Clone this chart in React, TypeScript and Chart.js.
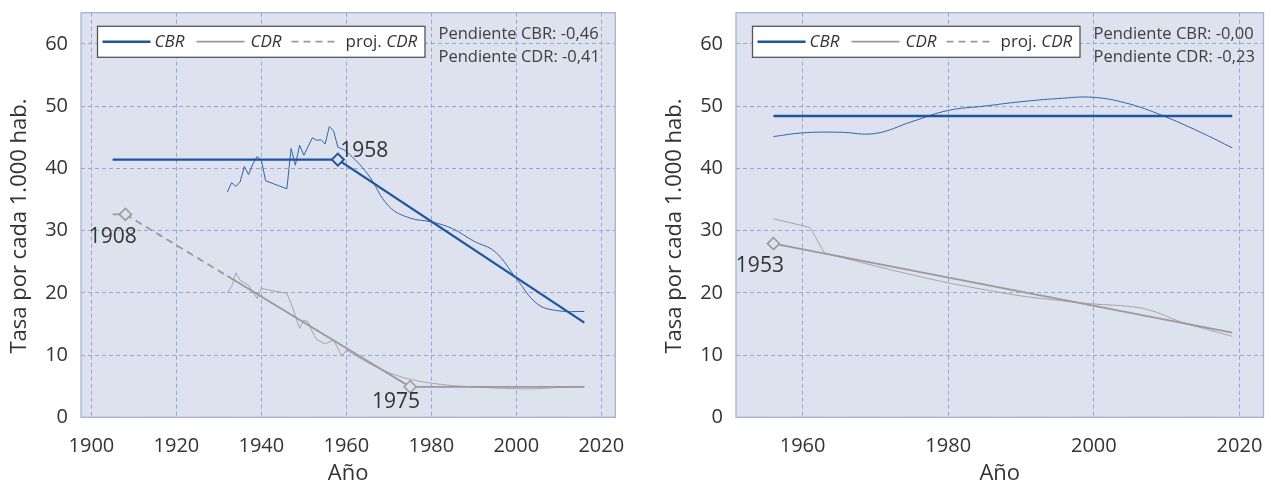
import React, { useEffect, useRef } from "react";
import { Chart, registerables } from "chart.js";

Chart.register(...registerables);

// ---------------- shared ticks ----------------
const Y_TICKS = [0, 10, 20, 30, 40, 50, 60];
const LEFT_X_TICKS = [1900, 1920, 1940, 1960, 1980, 2000, 2020];
const RIGHT_X_TICKS = [1960, 1980, 2000, 2020];
const X_TITLE = "Año";
const Y_TITLE = "Tasa por cada 1.000 hab.";

// ---------------- left panel data ----------------
const L_CBR_RAW_YEARS = [1932, 1933, 1934, 1935, 1936, 1937, 1938, 1939, 1940, 1941, 1946, 1947, 1948, 1949, 1950, 1952, 1953, 1954, 1955, 1956, 1957, 1958];
const L_CBR_RAW = [36.2, 37.7, 37.1, 37.8, 40.3, 39.0, 40.7, 41.9, 41.3, 38.0, 36.7, 43.2, 40.5, 43.7, 42.1, 44.9, 44.5, 44.6, 43.9, 46.7, 46.0, 43.4];
const L_CBR_SMOOTH_YEARS = [1958, 1960, 1965, 1970, 1975, 1980, 1985, 1990, 1995, 2000, 2005, 2010, 2016];
const L_CBR_SMOOTH = [43.4, 42.7, 39.1, 33.9, 32.0, 31.4, 30.3, 28.3, 26.6, 22.3, 18.2, 17.1, 17.0];
const L_CBR_FIT_YEARS = [1905, 1958, 2016];
const L_CBR_FIT = [41.4, 41.4, 15.2];

const L_CDR_RAW_YEARS = [1932, 1933, 1934, 1935, 1937, 1939, 1940, 1946, 1947, 1949, 1950, 1951, 1952, 1953, 1955, 1957, 1959, 1960];
const L_CDR_RAW = [20.0, 21.0, 23.2, 22.0, 21.2, 19.1, 20.7, 19.9, 18.3, 14.3, 15.6, 15.3, 13.7, 12.5, 11.8, 12.4, 9.8, 10.8];
const L_CDR_SMOOTH_YEARS = [1960, 1965, 1970, 1975, 1980, 1985, 1990, 1995, 2000, 2005, 2010, 2016];
const L_CDR_SMOOTH = [10.8, 8.8, 7.2, 6.1, 5.5, 5.1, 4.9, 4.7, 4.6, 4.6, 4.8, 4.9];
const L_CDR_FIT_PRE_YEARS = [1905, 1908];
const L_CDR_FIT_PRE = [32.6, 32.6];
const L_CDR_PROJ_YEARS = [1908, 1932];
const L_CDR_PROJ = [32.6, 22.7];
const L_CDR_FIT_YEARS = [1932, 1975, 2016];
const L_CDR_FIT = [22.7, 4.9, 4.9];

const L_CBR_MARK_YEARS = [1958];
const L_CBR_MARK = [41.4];
const L_CDR_MARK_YEARS = [1908, 1975];
const L_CDR_MARK = [32.6, 4.9];
const L_SLOPES = ["Pendiente CBR: -0,46", "Pendiente CDR: -0,41"];

// ---------------- right panel data ----------------
const R_CBR_RAW_YEARS = [1956, 1960, 1965, 1970, 1975, 1980, 1985, 1990, 1995, 2000, 2005, 2010, 2015, 2019];
const R_CBR_RAW = [45.1, 45.7, 45.8, 45.6, 47.5, 49.3, 50.0, 50.7, 51.2, 51.4, 50.3, 48.2, 45.6, 43.3];
const R_CBR_FIT_YEARS = [1956, 2019];
const R_CBR_FIT = [48.4, 48.4];

const R_CDR_RAW_A_YEARS = [1956, 1961, 1963];
const R_CDR_RAW_A = [31.9, 30.5, 26.4];
const R_CDR_RAW_B_YEARS = [1963, 1965, 1970, 1975, 1980, 1985, 1990, 1995, 2000, 2005, 2008, 2012, 2015, 2019];
const R_CDR_RAW_B = [26.4, 25.8, 24.3, 22.9, 21.6, 20.5, 19.5, 18.8, 18.2, 17.8, 17.1, 15.3, 14.3, 13.0];
const R_CDR_FIT_YEARS = [1956, 2019];
const R_CDR_FIT = [27.9, 13.6];

const R_CDR_MARK_YEARS = [1956];
const R_CDR_MARK = [27.9];
const R_SLOPES = ["Pendiente CBR: -0,00", "Pendiente CDR: -0,23"];

// ---------------- styles ----------------
const FONT = '"Open Sans", "Noto Sans", "DejaVu Sans", sans-serif';
const BG = "#dee1ee";
const GRID = "#97a5d6";
const FRAME = "#a7b2d9";
const BLUE_FIT = "#1b559e";
const BLUE_RAW = "#2f67ad";
const GREY_FIT = "#9a9a9a";
const GREY_RAW = "#a6a6a6";
const TEXT = "#333333";

const toPts = (xs: number[], ys: number[]) => xs.map((x, i) => ({ x, y: ys[i] }));

const line = (data: any[], color: string, width: number, extra: any = {}) => ({
  data,
  borderColor: color,
  backgroundColor: color,
  borderWidth: width,
  pointRadius: 0,
  pointHoverRadius: 0,
  fill: false,
  tension: 0,
  ...extra,
});

const markers = (data: any[], color: string, width: number) => ({
  data,
  showLine: false,
  pointStyle: "rectRot",
  pointRadius: 6,
  pointHoverRadius: 6,
  pointBorderColor: color,
  pointBackgroundColor: BG,
  pointBorderWidth: width,
  borderColor: color,
  backgroundColor: BG,
});

type MarkLabel = { text: string; year: number; value: number; align: CanvasTextAlign; dx: number; dy: number };

type Spec = {
  xMin: number;
  xMax: number;
  xTicks: number[];
  padRight: number;
  datasets: any[];
  labels: MarkLabel[];
  slopes: string[];
};

function makeExtras(spec: Spec) {
  return {
    id: "panelExtras",
    beforeDraw(chart: any) {
      const { ctx, chartArea: a } = chart;
      ctx.save();
      ctx.fillStyle = "#ffffff";
      ctx.fillRect(0, 0, chart.width, chart.height);
      ctx.fillStyle = BG;
      ctx.fillRect(a.left, a.top, a.right - a.left, a.bottom - a.top);
      ctx.restore();
    },
    beforeDatasetsDraw(chart: any) {
      const { ctx, chartArea: a } = chart;
      ctx.save();
      ctx.strokeStyle = FRAME;
      ctx.lineWidth = 1.3;
      ctx.strokeRect(a.left, a.top, a.right - a.left, a.bottom - a.top);
      // y axis title
      ctx.translate(20, 226);
      ctx.rotate(-Math.PI / 2);
      ctx.font = `22px ${FONT}`;
      ctx.fillStyle = TEXT;
      ctx.textAlign = "center";
      ctx.textBaseline = "middle";
      ctx.fillText(Y_TITLE, 0, 0);
      ctx.restore();
    },
    afterDatasetsDraw(chart: any) {
      const { ctx, chartArea: a, scales } = chart;
      ctx.save();
      // marker labels
      ctx.font = `21px ${FONT}`;
      ctx.fillStyle = TEXT;
      ctx.textBaseline = "alphabetic";
      for (const l of spec.labels) {
        const px = scales.x.getPixelForValue(l.year);
        const py = scales.y.getPixelForValue(l.value);
        ctx.textAlign = l.align;
        ctx.fillText(l.text, px + l.dx, py + l.dy);
      }
      // legend box
      const lx = a.left + 16.5;
      const ly = 26.3;
      const lw = 327.5;
      const lh = 31;
      ctx.fillStyle = "#ffffff";
      ctx.fillRect(lx, ly, lw, lh);
      ctx.strokeStyle = "#555555";
      ctx.lineWidth = 1.3;
      ctx.strokeRect(lx, ly, lw, lh);
      const cy = ly + 15.4;
      const seg = (x0: number, x1: number, color: string, w: number, dash: number[]) => {
        ctx.beginPath();
        ctx.setLineDash(dash);
        ctx.strokeStyle = color;
        ctx.lineWidth = w;
        ctx.moveTo(x0, cy);
        ctx.lineTo(x1, cy);
        ctx.stroke();
        ctx.setLineDash([]);
      };
      seg(lx + 5, lx + 53, BLUE_FIT, 2.4, []);
      seg(lx + 99, lx + 147, GREY_FIT, 1.8, []);
      seg(lx + 194, lx + 242, GREY_FIT, 1.8, [7, 5]);
      const tb = ly + 21;
      ctx.fillStyle = TEXT;
      ctx.textAlign = "left";
      ctx.font = `italic 17px ${FONT}`;
      ctx.fillText("CBR", lx + 57, tb);
      ctx.fillText("CDR", lx + 153, tb);
      ctx.font = `17px ${FONT}`;
      ctx.fillText("proj.", lx + 248, tb);
      const pw = ctx.measureText("proj. ").width;
      ctx.font = `italic 17px ${FONT}`;
      ctx.fillText("CDR", lx + 248 + pw, tb);
      // slope texts
      ctx.font = `16.5px ${FONT}`;
      ctx.fillStyle = "#404040";
      ctx.fillText(spec.slopes[0], lx + lw + 13.5, 38.5);
      ctx.fillText(spec.slopes[1], lx + lw + 13.5, 62);
      ctx.restore();
    },
  };
}

function buildConfig(spec: Spec): any {
  return {
    type: "line",
    data: { datasets: spec.datasets },
    options: {
      responsive: false,
      animation: false,
      devicePixelRatio: 1,
      events: [],
      layout: { padding: { top: 12.7, right: spec.padRight, bottom: 0, left: 0 } },
      plugins: { legend: { display: false }, tooltip: { enabled: false } },
      scales: {
        x: {
          type: "linear",
          min: spec.xMin,
          max: spec.xMax,
          afterBuildTicks: (s: any) => {
            s.ticks = spec.xTicks.map((v) => ({ value: v }));
          },
          afterFit: (s: any) => {
            s.height = 64.7;
            s.paddingLeft = 0;
            s.paddingRight = 0;
          },
          grid: { color: GRID, lineWidth: 1, drawTicks: false },
          border: { display: false, dash: [4, 3] },
          ticks: {
            color: TEXT,
            padding: 17,
            font: { family: FONT, size: 20 },
            maxRotation: 0,
            autoSkip: false,
            callback: (v: any) => String(v),
          },
          title: {
            display: true,
            text: X_TITLE,
            color: TEXT,
            font: { family: FONT, size: 22, lineHeight: 0.755 },
            padding: 0,
          },
        },
        y: {
          type: "linear",
          min: 0,
          max: 65,
          afterBuildTicks: (s: any) => {
            s.ticks = Y_TICKS.map((v) => ({ value: v }));
          },
          afterFit: (s: any) => {
            s.width = 81;
            s.paddingTop = 0;
            s.paddingBottom = 0;
          },
          grid: { color: GRID, lineWidth: 1, drawTicks: false },
          border: { display: false, dash: [4, 3] },
          ticks: {
            color: TEXT,
            padding: 13,
            font: { family: FONT, size: 20 },
            callback: (v: any) => String(v),
          },
          title: { display: false },
        },
      },
    },
    plugins: [makeExtras(spec)],
  };
}

const LEFT_SPEC: Spec = {
  xMin: 1897.55,
  xMax: 2023.3,
  xTicks: LEFT_X_TICKS,
  padRight: 24.7,
  slopes: L_SLOPES,
  labels: [
    { text: "1958", year: L_CBR_MARK_YEARS[0], value: L_CBR_MARK[0], align: "left", dx: 2.5, dy: -2.3 },
    { text: "1908", year: L_CDR_MARK_YEARS[0], value: L_CDR_MARK[0], align: "right", dx: 11.3, dy: 28.4 },
    { text: "1975", year: L_CDR_MARK_YEARS[1], value: L_CDR_MARK[1], align: "right", dx: 10, dy: 21.6 },
  ],
  datasets: [
    markers(toPts(L_CBR_MARK_YEARS, L_CBR_MARK), BLUE_FIT, 2),
    markers(toPts(L_CDR_MARK_YEARS, L_CDR_MARK), GREY_FIT, 1.5),
    line(toPts(L_CBR_FIT_YEARS, L_CBR_FIT), BLUE_FIT, 2.2),
    line(toPts(L_CDR_FIT_PRE_YEARS, L_CDR_FIT_PRE), GREY_FIT, 1.8),
    line(toPts(L_CDR_PROJ_YEARS, L_CDR_PROJ), GREY_FIT, 1.8, { borderDash: [7, 5] }),
    line(toPts(L_CDR_FIT_YEARS, L_CDR_FIT), GREY_FIT, 1.8),
    line(toPts(L_CBR_RAW_YEARS, L_CBR_RAW), BLUE_RAW, 1),
    line(toPts(L_CBR_SMOOTH_YEARS, L_CBR_SMOOTH), BLUE_RAW, 1, { tension: 0.4 }),
    line(toPts(L_CDR_RAW_YEARS, L_CDR_RAW), GREY_RAW, 1),
    line(toPts(L_CDR_SMOOTH_YEARS, L_CDR_SMOOTH), GREY_RAW, 1, { tension: 0.4 }),
  ],
};

const RIGHT_SPEC: Spec = {
  xMin: 1950.85,
  xMax: 2023.3,
  xTicks: RIGHT_X_TICKS,
  padRight: 1.7,
  slopes: R_SLOPES,
  labels: [{ text: "1953", year: R_CDR_MARK_YEARS[0], value: R_CDR_MARK[0], align: "right", dx: 10.4, dy: 28.6 }],
  datasets: [
    markers(toPts(R_CDR_MARK_YEARS, R_CDR_MARK), GREY_FIT, 1.5),
    line(toPts(R_CBR_FIT_YEARS, R_CBR_FIT), BLUE_FIT, 2.4),
    line(toPts(R_CDR_FIT_YEARS, R_CDR_FIT), GREY_FIT, 1.8),
    line(toPts(R_CBR_RAW_YEARS, R_CBR_RAW), BLUE_RAW, 1, { tension: 0.4 }),
    line(toPts(R_CDR_RAW_A_YEARS, R_CDR_RAW_A), GREY_RAW, 1),
    line(toPts(R_CDR_RAW_B_YEARS, R_CDR_RAW_B), GREY_RAW, 1, { tension: 0.4 }),
  ],
};

function Panel({ spec, left, width }: { spec: Spec; left: number; width: number }) {
  const ref = useRef<HTMLCanvasElement | null>(null);
  useEffect(() => {
    if (!ref.current) return;
    const chart = new Chart(ref.current, buildConfig(spec));
    let alive = true;
    const fonts: any = (document as any).fonts;
    if (fonts && fonts.load) {
      Promise.all([
        fonts.load(`20px "Open Sans"`),
        fonts.load(`italic 17px "Open Sans"`),
      ])
        .then(() => {
          if (alive) chart.update();
        })
        .catch(() => {});
    }
    return () => {
      alive = false;
      chart.destroy();
    };
  }, [spec]);
  return (
    <canvas
      ref={ref}
      width={width}
      height={482}
      style={{ position: "absolute", left, top: 0, width, height: 482 }}
    />
  );
}

export default function App() {
  return (
    <div style={{ position: "fixed", left: 0, top: 0, width: 1271, height: 482, background: "#ffffff", overflow: "hidden" }}>
      <Panel spec={LEFT_SPEC} left={0} width={640} />
      <Panel spec={RIGHT_SPEC} left={655} width={616} />
    </div>
  );
}
